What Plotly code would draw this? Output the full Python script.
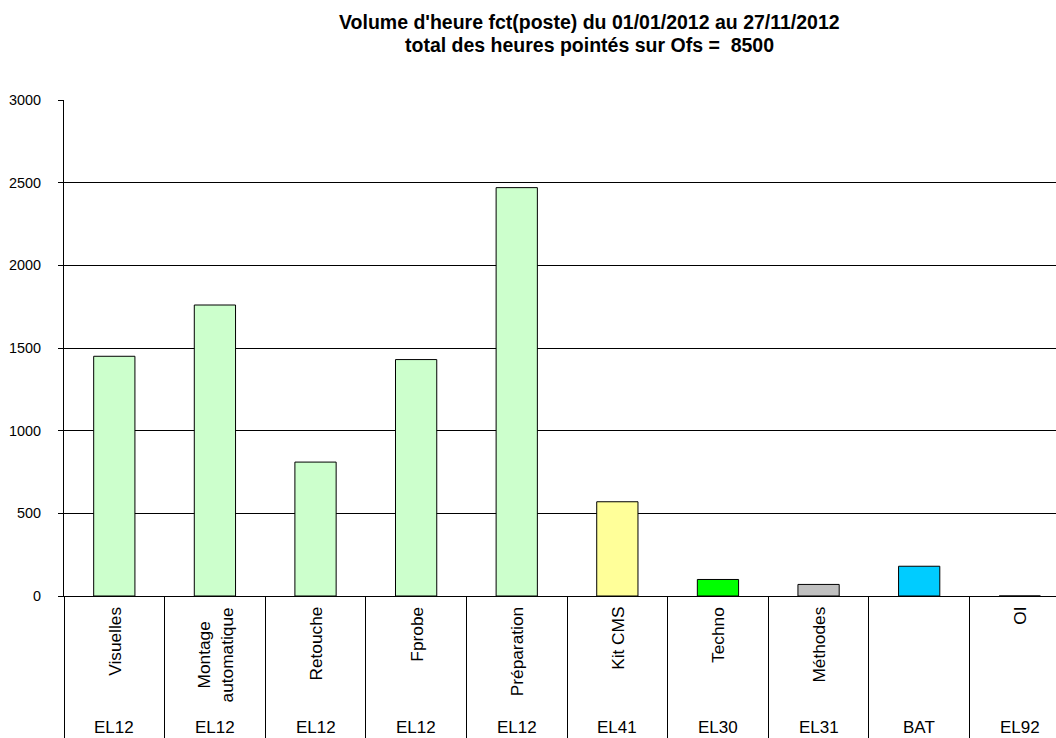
import plotly.graph_objects as go

postes = ["Visuelles", "Montage<br>automatique", "Retouche", "Fprobe", "Préparation",
          "Kit CMS", "Techno", "Méthodes", "", "OI"]
groupes = ["EL12", "EL12", "EL12", "EL12", "EL12", "EL41", "EL30", "EL31", "BAT", "EL92"]
heures = [1450, 1760, 810, 1430, 2470, 570, 100, 70, 180, 0]
couleurs = ["#CCFFCC", "#CCFFCC", "#CCFFCC", "#CCFFCC", "#CCFFCC",
            "#FFFF99", "#00FF00", "#C0C0C0", "#00CCFF", "#CCFFCC"]
y_ticks = [0, 500, 1000, 1500, 2000, 2500, 3000]
titre1 = "Volume d'heure fct(poste) du 01/01/2012 au 27/11/2012"
titre2 = "total des heures pointés sur Ofs =  8500"

FONT = "Liberation Sans, Arial, sans-serif"
idx = list(range(len(postes)))

fig = go.Figure(go.Bar(
    x=idx, y=heures,
    marker=dict(color=couleurs, line=dict(color="black", width=1)),
    hoverinfo="skip",
))

annotations = []
for i, (p, g) in enumerate(zip(postes, groupes)):
    if p:
        annotations.append(dict(
            x=i, xref="x", y=0, yref="paper", yshift=-10,
            text=p, textangle=-90, showarrow=False,
            xanchor="center", yanchor="top", align="center",
            font=dict(family=FONT, size=17.3, color="black"), borderpad=0,
        ))
    annotations.append(dict(
        x=i, xref="x", y=0, yref="paper", yshift=-131,
        text=g, showarrow=False, xanchor="center", yanchor="middle",
        font=dict(family=FONT, size=17, color="black"), borderpad=0,
    ))

annotations.append(dict(x=0.53, xref="paper", y=1, yref="paper", yshift=78.5,
                        text="<b>" + titre1 + "</b>", showarrow=False,
                        xanchor="center", yanchor="middle",
                        font=dict(family=FONT, size=19.5, color="black")))
annotations.append(dict(x=0.53, xref="paper", y=1, yref="paper", yshift=55.5,
                        text="<b>" + titre2.replace("  ", "&nbsp; ") + "</b>", showarrow=False,
                        xanchor="center", yanchor="middle",
                        font=dict(family=FONT, size=19.5, color="black")))

fig.update_layout(
    width=1056, height=738,
    margin=dict(l=64, r=0, t=100, b=142),
    paper_bgcolor="white", plot_bgcolor="white",
    showlegend=False,
    bargap=0.59,
    annotations=annotations,
    font=dict(family=FONT, color="black"),
)
fig.update_xaxes(
    type="linear",
    range=[-0.5, 9.36],
    tickmode="array",
    tickvals=[i - 0.5 for i in idx] + [len(idx) - 0.5],
    showticklabels=False,
    ticks="outside", ticklen=142, tickcolor="black", tickwidth=1,
    showline=True, linecolor="black", linewidth=1,
    showgrid=False, zeroline=False,
)
fig.update_yaxes(
    range=[0, 3000],
    tickvals=y_ticks,
    ticks="outside", ticklen=5, tickcolor="black", tickwidth=1,
    showline=True, linecolor="black", linewidth=1,
    showgrid=True, gridcolor="black", gridwidth=1,
    zeroline=False,
    tickfont=dict(family=FONT, size=14.4, color="black"),
    ticklabelstandoff=14,
)

fig.write_html("out.html")
